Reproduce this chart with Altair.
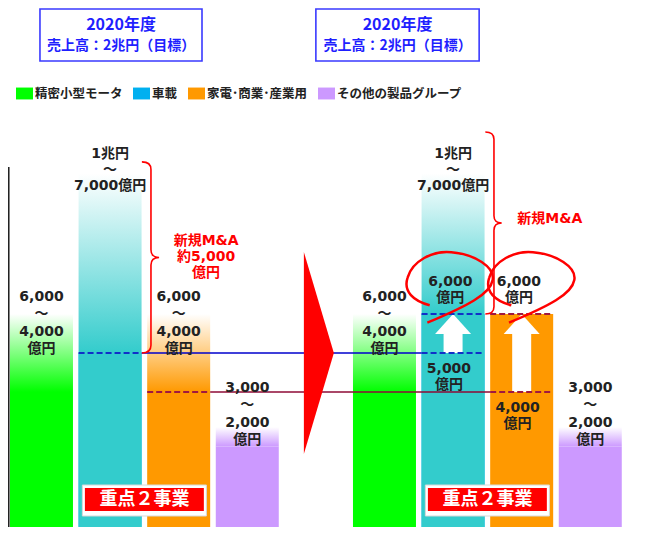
import altair as alt
import pandas as pd

# ---------------- data ----------------
categories = ["精密小型モータ", "車載", "家電･商業･産業用", "その他の製品グループ"]
legend_colors = ["#00ff00", "#00b0f0", "#ff9900", "#cc99ff"]
bar_colors = ["#00ff00", "#33cccc", "#ff9900", "#cc99ff"]

# left panel (present) : solid part / faded top (億円)
solid_now = [4000, 5000, 4000, 2600]
fade_now = [6000, 9600, 6000, 3100]
# right panel (2020 target)
solid_2020 = [4000, 6000, 6000, 2600]
fade_2020 = [6000, 9600, None, 3100]

range_labels = [["6,000", "～", "4,000", "億円"],
                ["1兆円", "～", "7,000億円"],
                ["6,000", "～", "4,000", "億円"],
                ["3,000", "～", "2,000", "億円"]]
range_label_top = [6436, 10103, 6436, 4103]

focus_idx = [1, 2]              # 車載, 家電･商業･産業用
focus_now = [5000, 4000]
focus_target = [6000, 6000]

ma_now = ["新規M&A", "約5,000", "億円"]
ma_2020 = ["新規M&A"]
brace_now = [5000, 9900]
brace_2020 = [6000, 10667]

header_lines = ["2020年度", "売上高：2兆円（目標）"]
focus_tag = "重点２事業"

# ---------------- layout ----------------
PX_SLOT = 68.6
PX_UNIT = 0.039
W, H = 632, 519
X_MIN = -0.488
Y_MAX = 13846
xs = alt.Scale(domain=[X_MIN, X_MIN + W / PX_SLOT], nice=False, zero=False)
ys = alt.Scale(domain=[Y_MAX - H / PX_UNIT, Y_MAX], nice=False, zero=False, clamp=True)
HALF = 31.5 / PX_SLOT
LEFT0, RIGHT0 = 0, 5

NUM_FONT = "DejaVu Sans, Noto Sans CJK JP"
JP_FONT = "Noto Sans CJK JP"
DARK = "#222222"


def px(n):
    return n / PX_UNIT


def X(f="x"):
    return alt.X(f"{f}:Q", scale=xs, axis=None)


def Y(f="y"):
    return alt.Y(f"{f}:Q", scale=ys, axis=None)


def text_rows(lines, x, y0, step=17):
    return [dict(x=x, y=y0 - k * px(step), t=s) for k, s in enumerate(lines)]


layers = []

# header boxes
hdr_x = [(-0.022, 2.34), (4.0, 6.38)]
hdr = pd.DataFrame([dict(x=a, x2=b, y=12487, y2=13821) for a, b in hdr_x])
layers.append(alt.Chart(hdr).mark_rect(fill="white", stroke="#3a3aff", strokeWidth=1.6)
              .encode(x=X(), x2="x2", y=Y(), y2="y2"))
hdr_t = []
for cx in [1.16, 5.19]:
    hdr_t.append(dict(x=cx, y=13410, t=header_lines[0], s=16))
    hdr_t.append(dict(x=cx, y=12880, t=header_lines[1], s=14))
for sz in [16, 14]:
    d = pd.DataFrame([r for r in hdr_t if r["s"] == sz])
    layers.append(alt.Chart(d).mark_text(font=JP_FONT, fontSize=sz, fontWeight="bold",
                                         color="#1f1fff", align="center", baseline="middle")
                  .encode(x=X(), y=Y(), text="t:N"))

# bars
rows = []
for slot0, solids, fades in [(LEFT0, solid_now, fade_now), (RIGHT0, solid_2020, fade_2020)]:
    for i, c in enumerate(categories):
        s = slot0 + i
        rows.append(dict(cat=c, x=s - HALF, x2=s + HALF, y=0, y2=solids[i],
                         yf=fades[i] if fades[i] is not None else float("nan")))
bars = pd.DataFrame(rows)

for c, col in zip(categories, bar_colors):
    sub = bars[(bars.cat == c) & bars.yf.notna()]
    grad = alt.Gradient(gradient="linear", x1=0, x2=0, y1=0, y2=1,
                        stops=[alt.GradientStop(color="#ffffff", offset=0),
                               alt.GradientStop(color=col, offset=1)])
    layers.append(alt.Chart(sub).mark_rect(fill=grad)
                  .encode(x=X(), x2="x2", y=Y("y2"), y2="yf"))

# solid parts (this layer carries the legend)
layers.append(alt.Chart(bars).mark_rect()
              .encode(x=X(), x2="x2", y=Y(), y2="y2",
                      color=alt.Color("cat:N", scale=alt.Scale(domain=categories, range=legend_colors),
                                      legend=alt.Legend(orient="none", legendX=8, legendY=77,
                                                        direction="horizontal", columns=4, title=None,
                                                        symbolType="M-1,-0.7 L1,-0.7 L1,0.7 L-1,0.7 Z",
                                                        symbolSize=289, symbolOpacity=1,
                                                        symbolStrokeWidth=0, labelFont=JP_FONT,
                                                        labelFontSize=12.5, labelFontWeight="bold",
                                                        labelColor=DARK, labelOffset=2,
                                                        columnPadding=10, padding=0))))
# the 車載 bars are drawn in a turquoise tone
layers.append(alt.Chart(bars[bars.cat == categories[1]]).mark_rect(color=bar_colors[1])
              .encode(x=X(), x2="x2", y=Y(), y2="y2"))

# left black line
vl = pd.DataFrame([dict(x=-0.48, y=0, y2=9770)])
layers.append(alt.Chart(vl).mark_rule(color="#222222", strokeWidth=2)
              .encode(x=X(), y=Y(), y2="y2"))

# connectors
blue_c = pd.DataFrame([dict(x=LEFT0 + focus_idx[0] + HALF, x2=RIGHT0 + focus_idx[0] - HALF, y=focus_now[0])])
red_c = pd.DataFrame([dict(x=LEFT0 + focus_idx[1] + HALF, x2=RIGHT0 + focus_idx[1] - HALF, y=focus_now[1])])
layers.append(alt.Chart(blue_c).mark_rule(color="#0000cc", strokeWidth=1.3).encode(x=X(), x2="x2", y=Y()))
layers.append(alt.Chart(red_c).mark_rule(color="#8e0a36", strokeWidth=1.3).encode(x=X(), x2="x2", y=Y()))

# big red arrow
arr = pd.DataFrame([dict(x=4, y=focus_now[0])])
layers.append(alt.Chart(arr).mark_point(shape="M-0.119,-1 L0.178,0 L-0.119,1 Z", size=202 ** 2,
                                        filled=True, color="#ff0000", opacity=1, strokeWidth=0)
              .encode(x=X(), y=Y()))

# white up arrows
shaft = pd.DataFrame([dict(x=RIGHT0 + i, y=n, y2=t - px(19))
                      for i, n, t in zip(focus_idx, focus_now, focus_target)])
layers.append(alt.Chart(shaft).mark_rule(color="white", strokeWidth=19, strokeCap="butt")
              .encode(x=X(), y=Y(), y2="y2"))
head = pd.DataFrame([dict(x=RIGHT0 + i, y=t) for i, t in zip(focus_idx, focus_target)])
layers.append(alt.Chart(head).mark_point(shape="M0,0 L1,1.11 L-1,1.11 Z", size=36 ** 2,
                                         filled=True, color="white", opacity=1, strokeWidth=0)
              .encode(x=X(), y=Y()))

# dashed lines
cols = ["#1030c8", "#a01840"]
dash_rows = {c: [] for c in cols}
for k, i in enumerate(focus_idx):
    dash_rows[cols[k]].append(dict(x=LEFT0 + i - HALF, x2=LEFT0 + i + HALF, y=focus_now[k]))
    dash_rows[cols[k]].append(dict(x=RIGHT0 + i - HALF, x2=RIGHT0 + i + HALF, y=focus_now[k]))
    dash_rows[cols[k]].append(dict(x=RIGHT0 + i - HALF, x2=RIGHT0 + i + HALF, y=focus_target[k]))
for col, rr in dash_rows.items():
    layers.append(alt.Chart(pd.DataFrame(rr)).mark_rule(color=col, strokeWidth=2, strokeDash=[6, 3])
                  .encode(x=X(), x2="x2", y=Y()))

# braces
brace_path = "M-0.095,-1 Q0,-1 0,-0.92 L0,-0.08 Q0,0 0.085,0 Q0,0 0,0.08 L0,0.92 Q0,1 -0.095,1"
br = pd.DataFrame([dict(x=LEFT0 + focus_idx[0] + 0.596, y=(brace_now[0] + brace_now[1]) / 2,
                        s=((brace_now[1] - brace_now[0]) * PX_UNIT) ** 2),
                   dict(x=RIGHT0 + focus_idx[0] + 0.596, y=(brace_2020[0] + brace_2020[1]) / 2,
                        s=((brace_2020[1] - brace_2020[0]) * PX_UNIT) ** 2)])
layers.append(alt.Chart(br).mark_point(shape=brace_path, filled=False, color="#ff0000",
                                       strokeWidth=1.6, opacity=1)
              .encode(x=X(), y=Y(), size=alt.Size("s:Q", scale=None)))

# dark labels
lab = []
for i in range(4):
    step = 16 if i == 1 else 17.3
    lab += text_rows(range_labels[i], LEFT0 + i, range_label_top[i], step)
    if i not in focus_idx[1:]:
        lab += text_rows(range_labels[i], RIGHT0 + i, range_label_top[i], step)
for k, i in enumerate(focus_idx):
    lab += text_rows([f"{focus_target[k]:,}", "億円"], RIGHT0 + i - 0.04, focus_target[k] + px(32), 16)
    lab += text_rows([f"{focus_now[k]:,}", "億円"], RIGHT0 + i - 0.06, focus_now[k] - px(16), 16)
layers.append(alt.Chart(pd.DataFrame(lab)).mark_text(font=NUM_FONT, fontSize=14, fontWeight="bold",
                                                     color=DARK, align="center", baseline="middle")
              .encode(x=X(), y=Y(), text="t:N"))

# red labels
red = text_rows(ma_now, LEFT0 + focus_idx[0] + 1.40, (brace_now[0] + brace_now[1]) / 2 + px(16), 16)
red += text_rows(ma_2020, RIGHT0 + focus_idx[0] + 1.41, (brace_2020[0] + brace_2020[1]) / 2 + px(4), 16)
layers.append(alt.Chart(pd.DataFrame(red)).mark_text(font=NUM_FONT, fontSize=14, fontWeight="bold",
                                                     color="#ff0000", align="center", baseline="middle")
              .encode(x=X(), y=Y(), text="t:N"))

# 重点２事業 tags
tag_x = [LEFT0 + 1.5, RIGHT0 + 1.5]
outer = pd.DataFrame([dict(x=c - 0.904, x2=c + 0.904, y=820, y2=1615) for c in tag_x])
inner = pd.DataFrame([dict(x=c - 0.867, x2=c + 0.867, y=949, y2=1538) for c in tag_x])
tagt = pd.DataFrame([dict(x=c, y=1231, t=focus_tag) for c in tag_x])
layers.append(alt.Chart(outer).mark_rect(fill="white", stroke="#d8d8d8", strokeWidth=1)
              .encode(x=X(), x2="x2", y=Y(), y2="y2"))
layers.append(alt.Chart(inner).mark_rect(fill="#ff0000").encode(x=X(), x2="x2", y=Y(), y2="y2"))
layers.append(alt.Chart(tagt).mark_text(font=JP_FONT, fontSize=18, fontWeight="bold", color="white",
                                        align="center", baseline="middle")
              .encode(x=X(), y=Y(), text="t:N"))

# hand-drawn red loops
loop_path = ("M-0.41,0.39 C-0.75,0.3 -0.98,0.1 -0.88,-0.2 C-0.78,-0.55 -0.35,-0.78 0.05,-0.74 "
             "C0.55,-0.7 0.98,-0.42 0.93,-0.15 C0.88,0.15 0.4,0.4 -0.46,0.76")
loops = pd.DataFrame([dict(x=RIGHT0 + focus_idx[0] - 0.06, y=focus_target[0] + px(27)),
                      dict(x=RIGHT0 + focus_idx[1] + 0.13, y=focus_target[1] + px(27))])
layers.append(alt.Chart(loops).mark_point(shape=loop_path, size=94 ** 2, filled=False,
                                          color="#ff0000", strokeWidth=2.5, opacity=1)
              .encode(x=X(), y=Y()))

chart = (alt.layer(*layers)
         .properties(width=W, height=H, padding=0, autosize=alt.AutoSizeParams(type="none"))
         .configure_view(stroke=None))

chart.save("out.html", embed_options={"renderer": "svg", "actions": False})
